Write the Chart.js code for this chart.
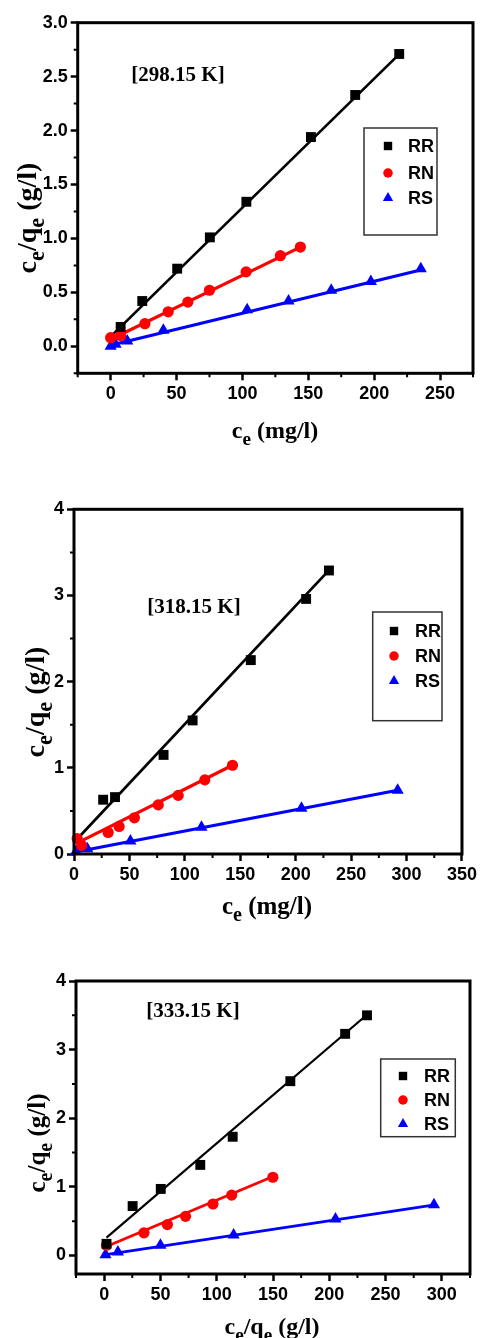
<!DOCTYPE html>
<html>
<head>
<meta charset="utf-8">
<script src="https://cdn.jsdelivr.net/npm/chart.js@4.4.1/dist/chart.umd.min.js"></script>
<style>
  body { margin: 0; background: #fff; width: 480px; height: 1338px; position: relative; overflow: hidden; }
  canvas { position: absolute; left: 0; }
</style>
</head>
<body>
<canvas id="c298" width="480" height="450" style="top:0px"></canvas>
<canvas id="c318" width="480" height="470" style="top:460px"></canvas>
<canvas id="c333" width="480" height="398" style="top:940px"></canvas>
<script>
// Langmuir plots, ce/qe vs ce, at three temperatures

// 298.15 K
const rr298X = [7.6, 24, 50.5, 75.3, 103, 152, 185.6, 219];
const rr298Y = [0.18, 0.42, 0.72, 1.01, 1.34, 1.94, 2.33, 2.71];
const rn298X = [0, 7.6, 26, 43.7, 58.6, 75, 102.8, 128.8, 144];
const rn298Y = [0.08, 0.10, 0.21, 0.32, 0.41, 0.52, 0.69, 0.84, 0.92];
const rs298X = [0, 3.8, 12.6, 40, 103.6, 135, 167.4, 197.5, 235.4];
const rs298Y = [0.0, 0.02, 0.05, 0.15, 0.34, 0.42, 0.52, 0.60, 0.72];
const rr298Fit = [[0, 0.09], [220, 2.72]];
const rn298Fit = [[1, 0.07], [144, 0.92]];
const rs298Fit = [[0, 0.01], [236, 0.71]];

// 318.15 K
const rr318X = [26.3, 37, 80.8, 107, 159.5, 209.4, 230];
const rr318Y = [0.63, 0.66, 1.15, 1.55, 2.25, 2.96, 3.29];
const rn318X = [2.9, 6.9, 30.8, 40.7, 54.5, 76, 94, 118, 143];
const rn318Y = [0.18, 0.10, 0.25, 0.32, 0.42, 0.57, 0.68, 0.86, 1.03];
const rs318X = [1.8, 12, 50.9, 115, 205.2, 292];
const rs318Y = [0.03, 0.06, 0.15, 0.31, 0.53, 0.74];
const rr318Fit = [[1.8, 0.16], [232, 3.32]];
const rn318Fit = [[1.8, 0.12], [143, 1.03]];
const rs318Fit = [[0, 0.02], [292, 0.74]];

// 333.15 K
const rr333X = [2.1, 25.3, 50.3, 85.4, 114.2, 165.4, 214.1, 233.5];
const rr333Y = [0.17, 0.72, 0.97, 1.32, 1.73, 2.54, 3.23, 3.50];
const rn333X = [2.1, 35.4, 56.2, 72.3, 96.7, 113.3, 149.9];
const rn333Y = [0.15, 0.33, 0.45, 0.57, 0.75, 0.88, 1.14];
const rs333X = [1.2, 12.2, 50, 115, 205.5, 293];
const rs333Y = [0.01, 0.05, 0.15, 0.30, 0.53, 0.74];
const rr333Fit = [[2.1, 0.26], [235, 3.53]];
const rn333Fit = [[2, 0.13], [150, 1.15]];
const rs333Fit = [[0, 0.01], [295, 0.74]];

// tick labels
const x298Ticks = ['0', '50', '100', '150', '200', '250'];
const y298Ticks = ['0.0', '0.5', '1.0', '1.5', '2.0', '2.5', '3.0'];
const x318Ticks = ['0', '50', '100', '150', '200', '250', '300', '350'];
const y318Ticks = ['0', '1', '2', '3', '4'];
const x333Ticks = ['0', '50', '100', '150', '200', '250', '300'];
const y333Ticks = ['0', '1', '2', '3', '4'];

const seriesNames = ['RR', 'RN', 'RS'];
const seriesColors = ['#000000', '#ff0000', '#0000ff'];
const seriesShapes = ['rect', 'circle', 'triangle'];
const shapeRadius = { rect: 7, circle: 5.6, triangle: 7 };

const SANS = '"Liberation Sans", Arial, sans-serif';
const SERIF = '"Liberation Serif", "Times New Roman", serif';

// text with "_x" meaning subscript x
function drawRich(ctx, text, cx, cy, size) {
  const runs = [];
  for (let i = 0; i < text.length; i++) {
    if (text[i] === '_') {
      runs.push({ t: text[++i], sub: true });
    } else {
      const last = runs[runs.length - 1];
      if (last && !last.sub) last.t += text[i];
      else runs.push({ t: text[i], sub: false });
    }
  }
  const font = sub => `bold ${sub ? size * 0.8 : size}px ${SERIF}`;
  let total = 0;
  runs.forEach(r => { ctx.font = font(r.sub); r.w = ctx.measureText(r.t).width; total += r.w; });
  let x = cx - total / 2;
  ctx.textBaseline = 'middle';
  ctx.textAlign = 'left';
  runs.forEach(r => {
    ctx.font = font(r.sub);
    ctx.fillText(r.t, x, cy + (r.sub ? size * 0.32 : 0));
    x += r.w;
  });
}

const decor = {
  id: 'decor',
  afterDatasetsDraw(chart, args, o) {
    const { ctx, chartArea: a, scales: { x, y } } = chart;
    ctx.save();
    ctx.strokeStyle = '#000';
    ctx.fillStyle = '#000';

    // minor ticks half way between labelled ones
    ctx.lineWidth = 2;
    const minor = (scale, step, majors, draw) => {
      for (let i = Math.ceil(scale.min / step - 1e-9); i * step <= scale.max + 1e-9; i++) {
        const v = i * step;
        if (majors.some(m => Math.abs(m - v) < 1e-6)) continue;
        draw(scale.getPixelForValue(v));
      }
    };
    ctx.beginPath();
    minor(x, o.xMinor, o.xMajors, p => { ctx.moveTo(p, a.bottom); ctx.lineTo(p, a.bottom + 4); });
    minor(y, o.yMinor, o.yMajors, p => { ctx.moveTo(a.left, p); ctx.lineTo(a.left - 4, p); });
    ctx.stroke();

    // plot frame
    ctx.lineWidth = 3;
    ctx.strokeRect(a.left, a.top, a.right - a.left, a.bottom - a.top);

    // temperature tag
    ctx.font = `bold 21px ${SERIF}`;
    ctx.textAlign = 'center';
    ctx.textBaseline = 'middle';
    ctx.fillText(o.tag, o.tagPos[0], o.tagPos[1]);

    // axis titles
    drawRich(ctx, o.xTitle, o.xTitlePos[0], o.xTitlePos[1], o.xTitleSize);
    ctx.translate(o.yTitlePos[0], o.yTitlePos[1]);
    ctx.rotate(-Math.PI / 2);
    drawRich(ctx, o.yTitle, 0, 0, o.yTitleSize);
    ctx.setTransform(1, 0, 0, 1, 0, 0);

    // legend box
    const L = o.legend;
    ctx.strokeStyle = '#333';
    ctx.lineWidth = 1.5;
    ctx.strokeRect(L.box[0], L.box[1], L.box[2] - L.box[0], L.box[3] - L.box[1]);
    chart.data.datasets.filter(d => d.inLegend).forEach((d, i) => {
      const yy = L.rows[i];
      ctx.fillStyle = d.backgroundColor;
      ctx.strokeStyle = d.borderColor;
      Chart.helpers.drawPoint(ctx, { pointStyle: d.pointStyle, radius: d.pointRadius * 0.85, rotation: 0, borderWidth: 0 }, L.markX, yy);
      ctx.fillStyle = '#000';
      ctx.font = `bold 18px ${SANS}`;
      ctx.textAlign = 'left';
      ctx.textBaseline = 'middle';
      ctx.fillText(d.label, L.textX, yy + 1);
    });
    ctx.restore();
  }
};

function buildDatasets(xs, ys, fits, lineWidths) {
  const sets = [];
  for (let k = 0; k < 3; k++) {
    sets.push({
      label: seriesNames[k],
      inLegend: true,
      data: xs[k].map((v, i) => ({ x: v, y: ys[k][i] })),
      showLine: false,
      pointStyle: seriesShapes[k],
      pointRadius: shapeRadius[seriesShapes[k]],
      pointBorderWidth: 0,
      backgroundColor: seriesColors[k],
      borderColor: seriesColors[k],
      clip: false,
      order: 0
    });
  }
  for (let k = 0; k < 3; k++) {
    sets.push({
      label: seriesNames[k] + ' fit',
      data: fits[k].map(p => ({ x: p[0], y: p[1] })),
      showLine: true,
      pointRadius: 0,
      borderColor: seriesColors[k],
      borderWidth: lineWidths[k],
      clip: false,
      order: 1
    });
  }
  return sets;
}

function makePanel(id, p) {
  const xVals = p.xTicks.map(Number);
  const yVals = p.yTicks.map(Number);
  const tickFont = { family: SANS, size: 18, weight: 'bold' };
  const grid = { drawOnChartArea: false, drawTicks: true, tickLength: 7, tickWidth: 2.5, tickColor: '#000' };
  return new Chart(document.getElementById(id), {
    type: 'scatter',
    data: { datasets: buildDatasets(p.xs, p.ys, p.fits, p.lineWidths) },
    plugins: [decor],
    options: {
      responsive: false,
      animation: false,
      events: [],
      layout: { padding: { left: 0, top: p.padTop, right: p.padRight, bottom: 0 } },
      scales: {
        x: {
          type: 'linear', min: p.xRange[0], max: p.xRange[1],
          afterBuildTicks: s => { s.ticks = xVals.map(v => ({ value: v })); },
          afterFit: s => { s.height = p.xAxisH; },
          ticks: { font: tickFont, color: '#000', padding: 3, maxRotation: 0, autoSkip: false,
                   callback: v => p.xTicks[xVals.indexOf(v)] },
          grid, border: { display: false }
        },
        y: {
          type: 'linear', min: p.yRange[0], max: p.yRange[1],
          afterBuildTicks: s => { s.ticks = yVals.map(v => ({ value: v })); },
          afterFit: s => { s.width = p.yAxisW; },
          ticks: { font: tickFont, color: '#000', padding: 3, autoSkip: false,
                   callback: v => p.yTicks[yVals.indexOf(v)] },
          grid, border: { display: false }
        }
      },
      plugins: {
        legend: { display: false },
        tooltip: { enabled: false },
        decor: {
          xMinor: p.xMinor, yMinor: p.yMinor, xMajors: xVals, yMajors: yVals,
          tag: p.tag, tagPos: p.tagPos,
          xTitle: p.xTitle, xTitlePos: p.xTitlePos, xTitleSize: p.xTitleSize,
          yTitle: 'c_e/q_e (g/l)', yTitlePos: p.yTitlePos, yTitleSize: p.yTitleSize,
          legend: p.legend
        }
      }
    }
  });
}

makePanel('c298', {
  xs: [rr298X, rn298X, rs298X], ys: [rr298Y, rn298Y, rs298Y], fits: [rr298Fit, rn298Fit, rs298Fit],
  lineWidths: [2.7, 3.2, 3.2],
  xTicks: x298Ticks, yTicks: y298Ticks, xRange: [-25, 275], yRange: [-0.25, 3], xMinor: 25, yMinor: 0.25,
  padTop: 22.7, padRight: 7, xAxisH: 76.7, yAxisW: 77.7,
  tag: '[298.15 K]', tagPos: [178, 76],
  xTitle: 'c_e (mg/l)', xTitlePos: [275, 432], xTitleSize: 24,
  yTitlePos: [29, 218], yTitleSize: 28,
  legend: { box: [364, 128, 437, 235], markX: 388, textX: 408, rows: [146, 173, 198] }
});

makePanel('c318', {
  xs: [rr318X, rn318X, rs318X], ys: [rr318Y, rn318Y, rs318Y], fits: [rr318Fit, rn318Fit, rs318Fit],
  lineWidths: [2.7, 3.2, 3.2],
  xTicks: x318Ticks, yTicks: y318Ticks, xRange: [0, 350], yRange: [0, 4], xMinor: 25, yMinor: 0.5,
  padTop: 49.3, padRight: 16, xAxisH: 76, yAxisW: 74,
  tag: '[318.15 K]', tagPos: [194, 148],
  xTitle: 'c_e (mg/l)', xTitlePos: [267, 448], xTitleSize: 25,
  yTitlePos: [37, 242], yTitleSize: 28,
  legend: { box: [372.7, 152, 442, 260.7], markX: 394, textX: 415, rows: [171, 196, 221] }
});

makePanel('c333', {
  xs: [rr333X, rn333X, rs333X], ys: [rr333Y, rn333Y, rs333Y], fits: [rr333Fit, rn333Fit, rs333Fit],
  lineWidths: [2.2, 2.8, 2.8],
  xTicks: x333Ticks, yTicks: y333Ticks, xRange: [-25, 325], yRange: [-0.27, 4], xMinor: 25, yMinor: 0.5,
  padTop: 41, padRight: 10, xAxisH: 64, yAxisW: 76,
  tag: '[333.15 K]', tagPos: [193, 72],
  xTitle: 'c_e/q_e (g/l)', xTitlePos: [272, 388], xTitleSize: 24,
  yTitlePos: [39, 203], yTitleSize: 25,
  legend: { box: [380.7, 119, 455.3, 196.7], markX: 403, textX: 424, rows: [136, 160, 184] }
});
</script>
</body>
</html>
